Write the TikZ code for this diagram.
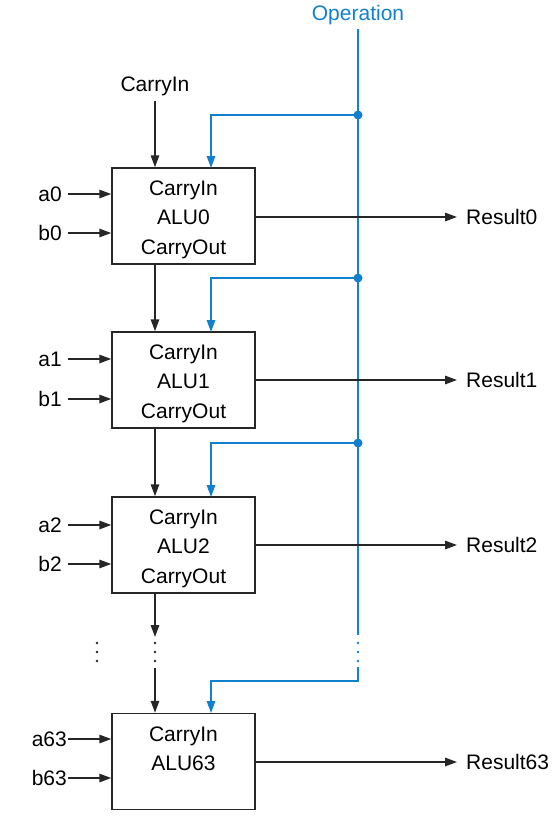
\documentclass[tikz,border=0pt]{standalone}
\usepackage{fontspec}
\setmainfont{Liberation Sans}
\usetikzlibrary{arrows.meta}
\definecolor{opblue}{RGB}{18,128,204}
\tikzset{
  alubox/.style={draw=black!85, line width=1.5pt, minimum width=143pt, minimum height=96pt, inner sep=0pt},
  boxtext/.style={inner sep=0pt, align=center, font=\fontsize{21}{29.5}\selectfont},
  lbl/.style={inner sep=1pt, font=\fontsize{21}{24}\selectfont},
  arr/.style={line width=1.5pt, draw=black!85, -{Triangle[length=12pt,width=8.5pt]}},
  barr/.style={line width=1.5pt, draw=opblue, -{Triangle[length=12pt,width=8.5pt]}},
  bline/.style={line width=1.5pt, draw=opblue},
  jdot/.style={circle, fill=opblue, inner sep=0pt, minimum size=9pt},
  sdot/.style={fill=black!85},
  bsdot/.style={fill=opblue},
}
\begin{document}
\begin{tikzpicture}[x=1pt,y=-1pt]
\useasboundingbox (0,0) rectangle (559,819);

% ALU boxes
\node[alubox] (alu0) at (183.5,216) {};
\node[alubox] (alu1) at (183.5,380) {};
\node[alubox] (alu2) at (183.5,545) {};
\node[alubox] (alu63) at (183.5,761.5) {};
\node[boxtext] (t0) at ([yshift=-3.5pt]alu0.center) {CarryIn\\ALU0\\CarryOut};
\node[boxtext] (t1) at ([yshift=-3.5pt]alu1.center) {CarryIn\\ALU1\\CarryOut};
\node[boxtext] (t2) at ([yshift=-3.5pt]alu2.center) {CarryIn\\ALU2\\CarryOut};
\node[boxtext] (t63) at ([yshift=-6.5pt]alu63.center) {CarryIn\\ALU63\\\strut};

% Operation
\node[lbl, text=opblue] (op) at (358,15) {Operation};
\coordinate (optop) at (358,29);
\node[jdot] (j0) at (358,115) {};
\node[jdot] (j1) at (358,278) {};
\node[jdot] (j2) at (358,443) {};
\coordinate (bend) at (358,635);
\coordinate (bres) at (358,667);
\coordinate (b63) at (358,681);

\draw[bline] (optop) -- (j0.center) -- (j1.center) -- (j2.center) -- (bend);
\draw[barr] (j0.center) -| (211,168);
\draw[barr] (j1.center) -| (211,332);
\draw[barr] (j2.center) -| (211,497);
\draw[barr] (bres) -- (b63) -| (211,713);

% CarryIn
\node[lbl] (cin) at (155,86) {CarryIn};
\coordinate (cx) at (155,0);
\draw[arr] (155,101) -- (alu0.north -| cx);
\draw[arr] (alu0.south -| cx) -- (alu1.north -| cx);
\draw[arr] (alu1.south -| cx) -- (alu2.north -| cx);
\coordinate (cend) at (155,637);
\coordinate (cres) at (155,668);
\draw[arr] (alu2.south -| cx) -- (cend);
\draw[arr] (cres) -- (alu63.north -| cx);

% continuation dots
\foreach \yy in {643,652,661}{
  \fill[sdot] (97,\yy) circle (1.3);
  \fill[sdot] (155,\yy) circle (1.3);
  \fill[bsdot] (358,\yy) circle (1.3);
}

% inputs
\node[lbl, anchor=east] (a0) at (63,194) {a0};
\node[lbl, anchor=east] (b0) at (63,233) {b0};
\node[lbl, anchor=east] (a1) at (63,359) {a1};
\node[lbl, anchor=east] (b1) at (63,399) {b1};
\node[lbl, anchor=east] (a2) at (63,525) {a2};
\node[lbl, anchor=east] (b2) at (63,564) {b2};
\node[lbl, anchor=east] (a63) at (68,739) {a63};
\node[lbl, anchor=east] (b63l) at (68,778) {b63};
\foreach \n in {a0,b0,a1,b1,a2,b2}{
  \draw[arr] ([xshift=5pt]\n.east) -- (\n.east -| alu0.west);
}
\draw[arr] (a63.east) -- (a63.east -| alu63.west);
\draw[arr] (b63l.east) -- (b63l.east -| alu63.west);

% results
\node[lbl, anchor=west] (r0) at (465,217) {Result0};
\node[lbl, anchor=west] (r1) at (465,380) {Result1};
\node[lbl, anchor=west] (r2) at (465,545) {Result2};
\node[lbl, anchor=west] (r63) at (465,762) {Result63};
\draw[arr] (alu0.east |- r0.west) -- ([xshift=-8pt]r0.west);
\draw[arr] (alu1.east |- r1.west) -- ([xshift=-8pt]r1.west);
\draw[arr] (alu2.east |- r2.west) -- ([xshift=-8pt]r2.west);
\draw[arr] (alu63.east |- r63.west) -- ([xshift=-8pt]r63.west);
\end{tikzpicture}
\end{document}
